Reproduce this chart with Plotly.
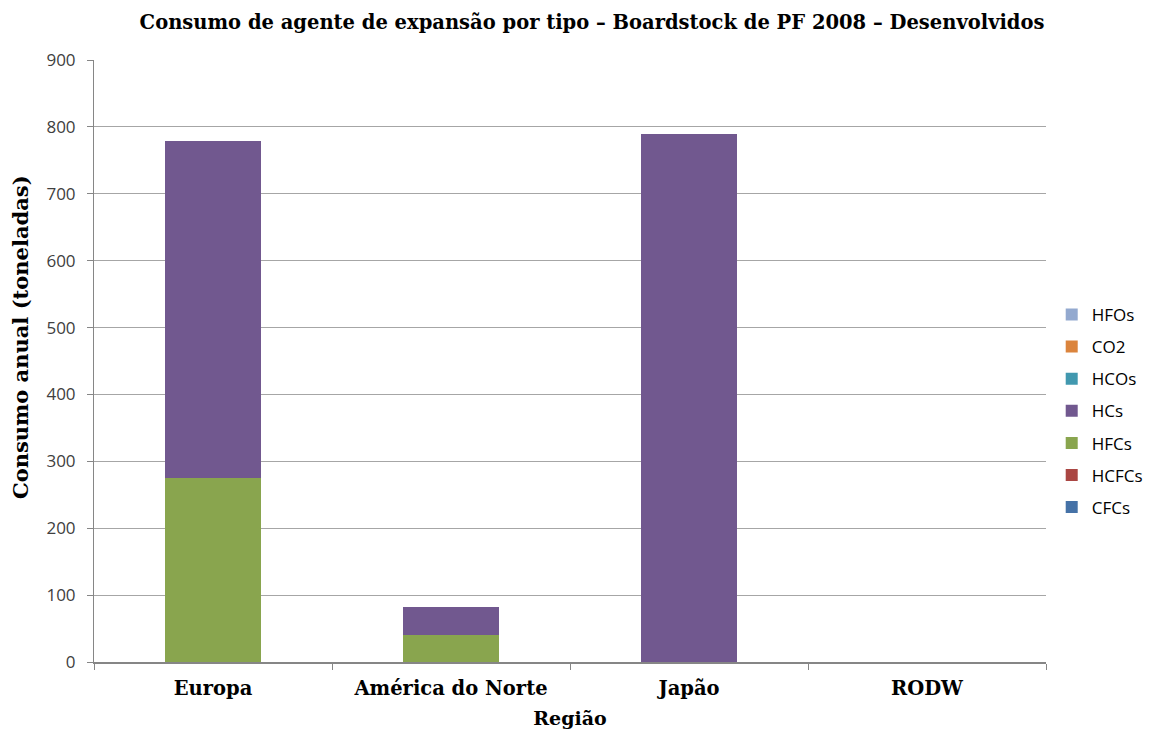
import plotly.graph_objects as go

regions = ["Europa", "América do Norte", "Japão", "RODW"]
series_names = ["CFCs", "HCFCs", "HFCs", "HCs", "HCOs", "CO2", "HFOs"]
cfcs = [0, 0, 0, 0]
hcfcs = [0, 0, 0, 0]
hfcs = [275, 40, 0, 0]
hcs = [504, 42, 790, 0]
hcos = [0, 0, 0, 0]
co2 = [0, 0, 0, 0]
hfos = [0, 0, 0, 0]
series_values = [cfcs, hcfcs, hfcs, hcs, hcos, co2, hfos]
colors = ["#4572A7", "#AA4643", "#89A54E", "#71588F", "#4198AF", "#DB843D", "#93A9CF"]

fig = go.Figure()
n = len(series_names)
for i, (name, vals, col) in enumerate(zip(series_names, series_values, colors)):
    fig.add_trace(go.Bar(
        x=regions, y=vals, name=name, legendgroup=name,
        legendrank=1000 + (n - i),
        marker=dict(color=col, line=dict(width=0)),
    ))

fig.update_layout(
    barmode="stack",
    bargap=0.6,
    width=1152, height=735,
    paper_bgcolor="white", plot_bgcolor="white",
    margin=dict(l=86, r=114, t=52, b=81, autoexpand=False),
    title=dict(
        text="Consumo de agente de expansão por tipo – Boardstock de PF 2008 – Desenvolvidos",
        x=0.507, xanchor="center", y=1 - 14 / 735, yanchor="middle",
        font=dict(family="DejaVu Serif", size=19.5, color="black", weight="bold"),
    ),
    legend=dict(
        traceorder="grouped", x=1.006, xanchor="left", y=0.417, yanchor="middle",
        font=dict(family="Open Sans", size=17, color="black"),
        tracegroupgap=7, itemwidth=30,
    ),
    showlegend=True,
)

fig.add_annotation(
    text="Consumo anual (toneladas)", textangle=-90,
    xref="paper", yref="paper", x=(12 - 86) / 952, y=(654 - 329) / 602,
    xanchor="center", yanchor="middle", showarrow=False,
    font=dict(family="DejaVu Serif", size=21, color="black", weight="bold"),
)

fig.update_xaxes(
    type="category",
    showline=True, linecolor="#868686", linewidth=2,
    ticks="outside", tickson="boundaries", ticklen=6, tickcolor="#868686",
    ticklabelstandoff=8,
    tickfont=dict(family="DejaVu Serif", size=19.5, color="black", weight="bold"),
    title=dict(text="Região", standoff=12,
               font=dict(family="DejaVu Serif", size=19, color="black", weight="bold")),
    showgrid=False,
)
fig.update_yaxes(
    range=[0, 900], dtick=100,
    showline=True, linecolor="#868686", linewidth=1,
    ticks="outside", ticklen=6, tickcolor="#868686",
    ticklabelstandoff=8,
    showgrid=True, gridcolor="#A6A6A6", gridwidth=1,
    tickfont=dict(family="Open Sans", size=17, color="#404040"),
    zeroline=False,
)

fig.write_html("out.html")
